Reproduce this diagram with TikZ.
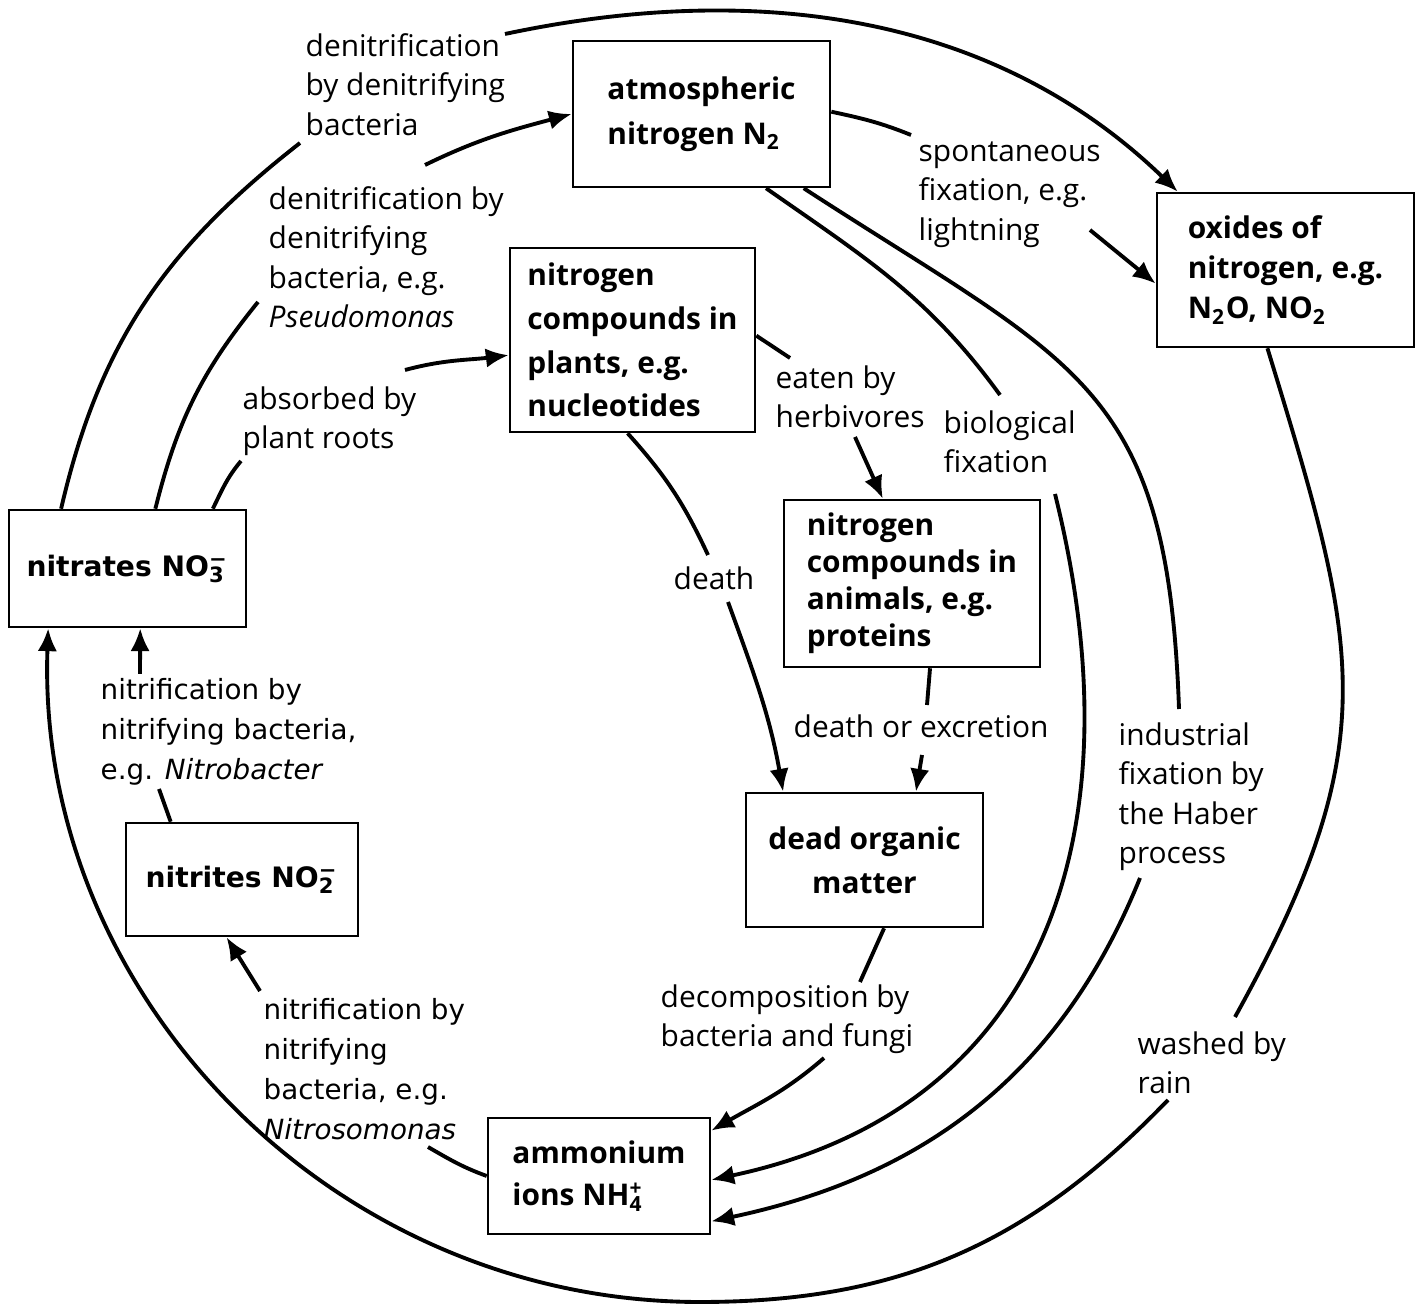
\documentclass[tikz,border=0pt]{standalone}
\usepackage{fontspec}
\setmainfont{Open Sans}
\newfontfamily\vfont{DejaVu Sans}
\usetikzlibrary{arrows.meta}
\newcommand{\ionidx}[2]{\makebox[0pt][l]{\textsubscript{#1}}\textsuperscript{#2}}

\begin{document}
\begin{tikzpicture}[x=0.01cm,y=0.01cm]
\tikzstyle{box}=[draw,line width=.7pt,inner sep=0pt,align=left,font=\bfseries\fontsize{8.5}{12.4}\selectfont]
\tikzstyle{lab}=[anchor=north west,inner sep=0pt,align=left,font=\fontsize{8.5}{11.2}\selectfont]
\tikzstyle{flow}=[line width=1.1pt]
\tikzstyle{arr}=[line width=1.1pt,-{Latex[length=6.5pt,width=5.5pt]}]
\useasboundingbox (0,0) rectangle (1418,1306);
    % boxes
    \node[box,minimum width=2.57cm,minimum height=1.46cm,font=\bfseries\fontsize{8.5}{12.8}\selectfont] (atm) at (701.5,1192) {atmospheric\\nitrogen N\textsubscript{2}};
    \node[box,minimum width=2.57cm,minimum height=1.54cm,font=\bfseries\fontsize{8.5}{11.4}\selectfont] (oxi) at (1285.5,1036) {oxides of\\nitrogen, e.g.\\N\textsubscript{2}O, NO\textsubscript{2}};
    \node[box,minimum width=2.45cm,minimum height=1.84cm] (pla) at (632.5,966) {nitrogen\\compounds in\\plants, e.g.\\nucleotides};
    \node[box,minimum width=2.56cm,minimum height=1.67cm,font=\bfseries\fontsize{8.5}{10.5}\selectfont] (ani) at (912,722.5) {nitrogen\\compounds in\\animals, e.g.\\proteins};
    \node[box,minimum width=2.37cm,minimum height=1.17cm,font=\vfont\bfseries\fontsize{8}{10}\selectfont] (nate) at (127.5,737.5) {nitrates NO\ionidx{3}{−}};
    \node[box,minimum width=2.32cm,minimum height=1.13cm,font=\vfont\bfseries\fontsize{8}{10}\selectfont] (nite) at (242,426.5) {nitrites NO\ionidx{2}{−}};
    \node[box,minimum width=2.37cm,minimum height=1.34cm,align=center] (dead) at (864.5,446) {dead organic\\matter};
    \node[box,minimum width=2.22cm,minimum height=1.16cm,font=\bfseries\fontsize{8.5}{12}\selectfont] (amm) at (599,130) {ammonium\\ions NH\ionidx{4}{+}};
    % labels
    \node[lab] (denout) at (305,1273) {denitrification\\by denitrifying\\bacteria};
    \node[lab] (denin) at (268,1120) {denitrification by\\denitrifying\\bacteria, e.g.\\\textit{Pseudomonas}};
    \node[lab] (absorb) at (242,920) {absorbed by\\plant roots};
    \node[lab] (spont) at (918,1165) {spontaneous\\fixation, e.g.\\lightning};
    \node[lab] (eaten) at (775,941) {eaten by\\herbivores};
    \node[lab] (biofix) at (943,896) {biological\\fixation};
    \node[lab] (death) at (673,740) {death};
    \node[lab] (excr) at (793,592) {death or excretion};
    \node[lab] (indfix) at (1118,584) {industrial\\fixation by\\the Haber\\process};
    \node[lab] (decomp) at (660,322) {decomposition by\\bacteria and fungi};
    \node[lab] (rain) at (1137,275) {washed by\\rain};
    \node[lab,font=\vfont\fontsize{7.9}{11.3}\selectfont] (nbact) at (100,628) {nitrification by\\nitrifying bacteria,\\e.g. \textit{Nitrobacter}};
    \node[lab,font=\vfont\fontsize{7.9}{11.3}\selectfont] (nsomo) at (263,308) {nitrification by\\nitrifying\\bacteria, e.g.\\\textit{Nitrosomonas}};
    % gaps round the labels
    \coordinate (g1a) at (300,1163);  \coordinate (g1b) at (505,1272);
    \coordinate (g2a) at (258,1004);  \coordinate (g2b) at (425,1141);
    \coordinate (g3a) at (241,845);   \coordinate (g3b) at (405,936);
    \coordinate (g4a) at (911,1171);  \coordinate (g4b) at (1090,1076);
    \coordinate (g5a) at (790,948);   \coordinate (g5b) at (855,869);
    \coordinate (g6a) at (708,751);   \coordinate (g6b) at (728,704);
    \coordinate (g7a) at (927,601);   \coordinate (g7b) at (922,551);
    \coordinate (g8a) at (860,324);   \coordinate (g8b) at (824,248);
    \coordinate (g9a) at (1000,911);  \coordinate (g9b) at (1055,812);
    \coordinate (g10a) at (1179,597); \coordinate (g10b) at (1140,428);
    \coordinate (g11a) at (1235,289); \coordinate (g11b) at (1168,206);
    \coordinate (g11c) at (700,4);
    \coordinate (g12a) at (159,517);  \coordinate (g12b) at (140,632);
    \coordinate (g13a) at (428,159);  \coordinate (g13b) at (260,315);
    % connectors
    \draw[flow] (nate.138) to[out=77,in=218] (g1a);
    \draw[arr] (g1b) to[out=12,in=136,looseness=.95] (oxi.144);
    \draw[flow] (nate.65) to[out=76,in=231] (g2a);
    \draw[arr] (g2b) to[out=26,in=195] (atm.180);
    \draw[flow] (nate.35) to[out=64,in=230] (g3a);
    \draw[arr] (g3b) to[out=15,in=187] (pla.187);
    \draw[flow] (atm.1) to[out=-12,in=158] (g4a);
    \draw[arr] (g4b) -- (oxi.186);
    \draw[flow] (pla.2) -- (g5a);
    \draw[arr] (g5b) -- (ani.109);
    \draw[flow] (pla.267) to[out=-48,in=115] (g6a);
    \draw[arr] (g6b) to[out=-70,in=100] (dead.140);
    \draw[flow] (ani.282) -- (g7a);
    \draw[arr] (g7b) -- (dead.53);
    \draw[flow] (dead.286) -- (g8a);
    \draw[arr] (g8b) to[out=221,in=30] (amm.22);
    \draw[flow] (atm.311) to[out=-35,in=126] (g9a);
    \draw[arr] (g9b) to[out=-76,in=12,looseness=1.15] (amm.358);
    \draw[flow] (atm.324) to[out=-33,in=92,looseness=1.3] (g10a);
    \draw[arr] (g10b) to[out=-112,in=12] (amm.338);
    \draw[flow] (oxi.257) to[out=-73,in=61,looseness=1.2] (g11a);
    \draw[arr] (g11b) to[out=226,in=0] (g11c) to[out=180,in=268] (nate.217);
    \draw[flow] (nite.141) -- (g12a);
    \draw[arr] (g12b) -- (nate.282);
    \draw[flow] (amm.west) to[out=160,in=-30] (g13a);
    \draw[arr] (g13b) -- (nite.255);
\end{tikzpicture}
\end{document}
